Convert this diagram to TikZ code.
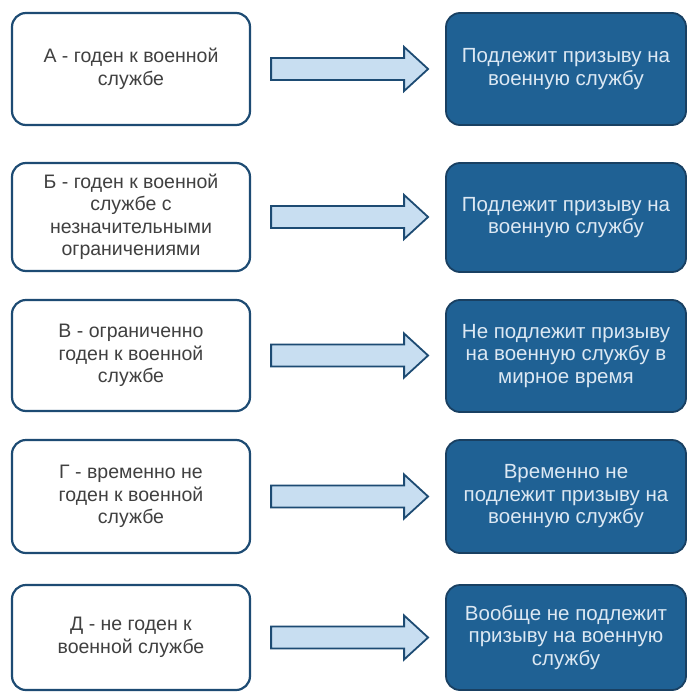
\documentclass[tikz,border=0pt]{standalone}
\usepackage{fontspec}
\setmainfont{Liberation Sans}
\usetikzlibrary{calc}
\definecolor{edge}{HTML}{1D4B73}
\definecolor{darkfill}{HTML}{1F6194}
\definecolor{lighttext}{HTML}{DCE8F3}
\definecolor{graytext}{HTML}{404040}
\definecolor{arrowfill}{HTML}{C8DEF1}
\tikzset{
  leftbox/.style={draw=edge, line width=2.2pt, fill=white, rounded corners=14pt,
    minimum width=238pt, align=center, text=graytext,
    font=\fontsize{19.5}{22.5}\selectfont, inner sep=0pt},
  rightbox/.style={draw=edge!85!black, line width=1.8pt, fill=darkfill, rounded corners=14pt,
    minimum width=240pt, align=center, text=lighttext,
    font=\fontsize{20.5}{22.5}\selectfont, inner sep=0pt},
  arr/.style={draw=edge, line width=1.8pt, fill=arrowfill, line join=miter}
}
\newcommand\bigarrow[2]{%
  \coordinate (#1a) at (#1.east);
  \coordinate (#1b) at (#1.east -| #2.west);
  \draw[arr] ($(#1a)+(20,-11)$) -- ($(#1b)+(-41,-11)$) -- ($(#1b)+(-41,-22)$)
    -- ($(#1b)+(-17,0)$) -- ($(#1b)+(-41,22)$) -- ($(#1b)+(-41,11)$)
    -- ($(#1a)+(20,11)$) -- cycle;}
\begin{document}
\begin{tikzpicture}[x=1pt,y=-1pt]
\useasboundingbox (0,0) rectangle (689,695);
% row 1
\node[leftbox, minimum height=112pt] (l1) at (131,69) {А - годен к военной\\службе};
\node[rightbox, minimum height=112pt] (r1) at (566,69) {Подлежит призыву на\\военную службу};
% row 2
\node[leftbox, minimum height=108pt] (l2) at (131,217) {Б - годен к военной\\службе с\\незначительными\\ограничениями};
\node[rightbox, minimum height=109pt] (r2) at (566,217.5) {Подлежит призыву на\\военную службу};
% row 3
\node[leftbox, minimum height=111pt] (l3) at (131,355.5) {В - ограниченно\\годен к военной\\службе};
\node[rightbox, minimum height=112pt] (r3) at (566,356) {Не подлежит призыву\\на военную службу в\\мирное время};
% row 4
\node[leftbox, minimum height=113pt] (l4) at (131,496.5) {Г - временно не\\годен к военной\\службе};
\node[rightbox, minimum height=113pt] (r4) at (566,496.5) {Временно не\\подлежит призыву на\\военную службу};
% row 5
\node[leftbox, minimum height=105pt] (l5) at (131,637.5) {Д - не годен к\\военной службе};
\node[rightbox, minimum height=105pt] (r5) at (566,637.5) {Вообще не подлежит\\призыву на военную\\службу};
\bigarrow{l1}{r1}
\bigarrow{l2}{r2}
\bigarrow{l3}{r3}
\bigarrow{l4}{r4}
\bigarrow{l5}{r5}
\end{tikzpicture}
\end{document}
